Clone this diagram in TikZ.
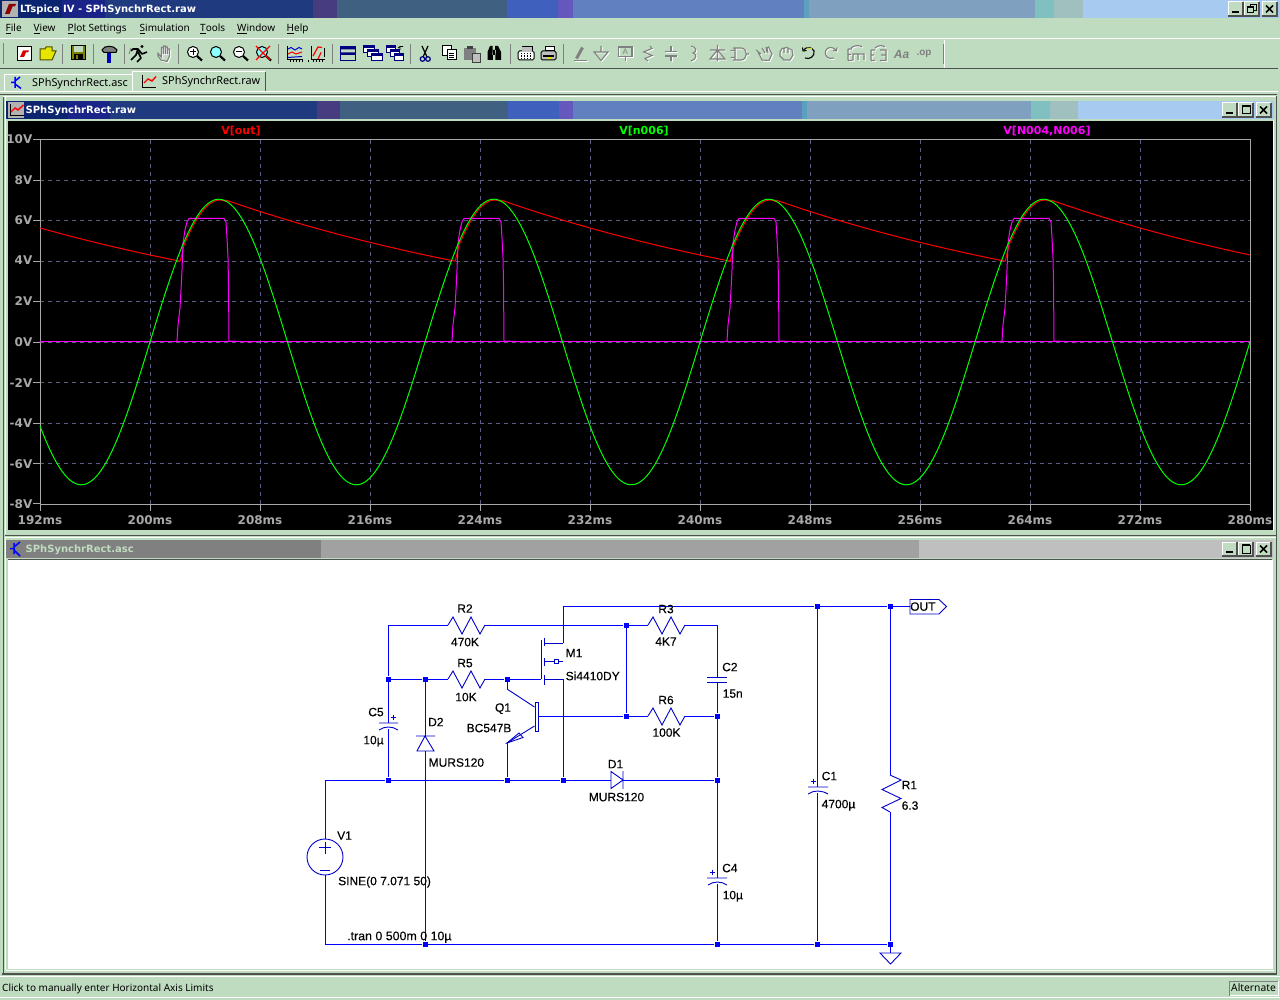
\documentclass[tikz,border=0pt]{standalone}
\usepackage{fontspec}
\setmainfont{Liberation Sans}
\newfontfamily\schf[FakeBold=0.25]{Liberation Sans}
\newfontfamily\dvf{DejaVu Sans}
\newfontfamily\uif{Noto Sans}
\definecolor{bgc}{HTML}{C0DCC0}
\definecolor{gridc}{HTML}{5C5C88}
\definecolor{axc}{HTML}{A8A8A8}
\definecolor{darkl}{HTML}{505050}
\definecolor{navy}{HTML}{000080}
\definecolor{wirec}{HTML}{0000FF}
\definecolor{symc}{HTML}{0000C8}
\definecolor{olive}{HTML}{808000}
\definecolor{magenta}{RGB}{255,0,255}
\definecolor{cyan}{RGB}{0,255,255}
\definecolor{yellow}{RGB}{255,255,0}
\definecolor{red}{RGB}{255,0,0}
\definecolor{green}{RGB}{0,255,0}
\tikzset{
 wire/.style={draw=wirec,line width=1pt},
 sym/.style={draw=symc,line width=.9pt},
 jdot/.style={rectangle,fill=wirec,inner sep=0pt,minimum size=5pt},
 schl/.style={font=\schf\fontsize{12}{14}\selectfont,text=black,inner sep=0pt,text height=8pt,text depth=2pt,yshift=-1.2pt},
 schw/.style={schl,anchor=west},
 menul/.style={font=\uif\fontsize{10}{12}\selectfont,text=black,inner sep=0pt,anchor=west,text height=8pt,text depth=2pt,yshift=-.8pt},
 tabl/.style={menul,font=\uif\fontsize{10.9}{12}\selectfont},
 titlel/.style={font=\dvf\bfseries\fontsize{10}{12}\selectfont,inner sep=0pt,anchor=west,text height=8pt,text depth=2pt,yshift=-.8pt},
 axl/.style={font=\dvf\bfseries\fontsize{12}{14}\selectfont,text=axc,inner sep=0pt,text height=8pt,text depth=2pt,yshift=-1pt},
 tracel/.style={font=\dvf\bfseries\fontsize{11}{14}\selectfont,inner sep=0pt,text height=8pt,text depth=2pt,yshift=-1pt},
 gridl/.style={draw=gridc,line width=1pt,dash pattern=on 4pt off 4pt},
 axis/.style={draw=axc,line width=1pt},
 redt/.style={draw=red,line width=1pt},
 grnt/.style={draw=green,line width=1pt},
 magt/.style={draw=magenta,line width=1pt,line join=round},
 tsep/.style={draw=gray,line width=1pt},
 ico/.style={draw=black,line width=1pt},
 dis/.style={draw=gray,line width=1.1pt},
 dissh/.style={draw=white,line width=1pt},
}
\newcommand{\resH}[2]{\draw[sym] (#1,#2) -- ++(5,-8) -- ++(9,17) -- ++(9,-17) -- ++(9,17) -- ++(5,-9);}
\newcommand{\emb}[1]{\path[dissh,shift={(1,1)}] #1; \path[dis] #1;}
\newcommand{\wbtn}[3]{%
 \fill[bgc] (#1,#2) rectangle ++(#3,14);
 \draw[white,line width=1pt] (#1,#2+14) -- (#1,#2) -- (#1+#3,#2);
 \draw[darkl,line width=1.2pt] (#1,#2+14) -- (#1+#3,#2+14) -- (#1+#3,#2);}
\newcommand{\wbtns}[3]{%
 \wbtn{#1}{#2}{15}\wbtn{#1+16}{#2}{15}\wbtn{#1+34}{#2}{15}
 \fill[black] (#1+4,#2+9) rectangle ++(7,2);
 \ifnum#3=0
 \draw[black,line width=1pt] (#1+20,#2+3) rectangle ++(8,8); \draw[black,line width=2pt] (#1+20,#2+3) -- ++(8,0);
 \else
 \draw[black,line width=1pt] (#1+22,#2+2.5) rectangle ++(6,6); \fill[bgc] (#1+19.5,#2+5) rectangle ++(6,6); \draw[black,line width=1pt] (#1+19.5,#2+5) rectangle ++(6,6); \draw[black,line width=1.5pt] (#1+19.5,#2+5) -- ++(6,0);
 \fi
 \draw[black,line width=1.6pt] (#1+38,#2+3.5) -- ++(7,7) (#1+45,#2+3.5) -- ++(-7,7);}
\newcommand{\zoomic}[2]{\fill[#2] (#1,52) circle (5.5); \draw[ico] (#1,52) circle (5.5); \draw[black,line width=2.2pt] (#1+4,56) -- (#1+9,60.5);}
\begin{document}
\begin{tikzpicture}[x=1pt,y=-1pt,line cap=butt]
\useasboundingbox (0,0) rectangle (1280,1000);
\fill[bgc] (0,0) rectangle (1280,1000);
% ---- main title bar
\foreach \a/\b/\c in {0/62/0A2470,62/105/1A2488,105/313/203A80,313/337/483C80,337/507/3F6080,507/558/3F60BC,558/573/6458BC,573/804/6080C0,804/809/5CA0C0,809/1035/80A0C0,1035/1054/80C0C0,1054/1083/A0C0C0,1083/1280/A6CAF0}{
 \definecolor{tmpc}{HTML}{\c}\fill[tmpc] (\a,0) rectangle (\b,18);}
\fill[gray!60] (2,1) rectangle (18,17);
\fill[red!55!black] (5,14) -- (9,4) -- (16,4) -- (15,6.5) -- (12.5,6.5) -- (9.5,14) -- cycle;
\node[titlel,text=white] (maintitle) at (20,9) {LTspice IV - SPhSynchrRect.raw};
\wbtns{1228}{2}{1}
% ---- menu
\node[menul] (mFile) at (5.5,28) {\underline{F}ile};
\node[menul] (mView) at (33.5,28) {\underline{V}iew};
\node[menul] (mPlot) at (67.5,28) {\underline{P}lot Settings};
\node[menul] (mSim) at (139.5,28) {\underline{S}imulation};
\node[menul] (mTools) at (200,28) {\underline{T}ools};
\node[menul] (mWin) at (237,28) {\underline{W}indow};
\node[menul] (mHelp) at (286.5,28) {\underline{H}elp};
\draw[white,line width=1pt] (0,38.5) -- (1280,38.5);
\draw[darkl,line width=1pt] (0,68.8) -- (1278,68.8);
\draw[white,line width=1pt] (0,91.3) -- (1278,91.3);
\draw[darkl,line width=1.2pt] (0,94.2) -- (1277,94.2);
\draw[gray,line width=1pt] (3.5,43) -- (3.5,64);
\foreach \s in {62,93,124,178,278,332,410,510,563,943}{\draw[tsep] (\s,44) -- (\s,64);}
\draw[white,line width=.6pt] (943.8,40) -- (943.8,68);
% new
\fill[white] (17.5,46.5) rectangle (31.5,60.5); \draw[ico] (17.5,46.5) rectangle (31.5,60.5);
\fill[red!85!black] (20,57) -- (23,50.5) -- (29,50.5) -- (28,52.5) -- (26,52.5) -- (24,57) -- cycle;
% open
\fill[yellow!80!olive] (40,60) -- (40,49) -- (45,49) -- (46,47) -- (52,47) -- (52,51) -- (56,51) -- (52,60) -- cycle;
\draw[olive!60!black,line width=1pt] (40,60) -- (40,49) -- (45,49) -- (46,47) -- (52,47) -- (52,51) -- (56,51) -- (52,60) -- cycle;
% save
\fill[olive] (71,46) rectangle (85.5,60); \draw[ico] (71,46) rectangle (85.5,60);
\fill[bgc] (74,46.5) rectangle (82.5,52); \fill[black] (74,54) rectangle (82.5,60);\fill[olive] (76,55.5) rectangle (78,59);
% hammer
\fill[blue!75!black] (106.5,52) rectangle (111,63);
\fill[gray] (102,49) .. controls (104,45) and (114,45) .. (117,49) -- (116,52) -- (102,52) -- cycle;
\draw[ico] (102,50) .. controls (104,45) and (114,45) .. (117,50) -- (116,52.5) -- (104,52.5) -- cycle;
% runner
\draw[black,line width=1.6pt,line join=round] (131,60) -- (136,55) -- (138,49) -- (142,54) -- (147,52) (138,52) -- (141,58) -- (137,62) (138,49) -- (133,49) -- (131,51);
\fill[black] (142,46.5) circle (1.6);
\draw[gray,line width=.8pt] (131,48) -- (129,54);
% hand
\emb{(158,56) -- (161,60) -- (167,61.5) -- (169.5,56) -- (169.5,49) -- (167.5,49) -- (167.5,54) -- (167.5,47) -- (165.5,47) -- (165.5,54) -- (165.5,46) -- (163.5,46) -- (163.5,54) -- (163.5,47.5) -- (161.5,47.5) -- (161.5,57) -- (158,53.5) -- cycle}
% zooms
\zoomic{193}{white}\draw[black,line width=1pt] (190,52) -- (196,52) (193,49) -- (193,55);
\zoomic{216}{cyan!45}
\zoomic{239}{white}\draw[black,line width=1pt] (236,52) -- (242,52);
\zoomic{262}{cyan!45}\draw[red,line width=1.4pt] (256,46) -- (270,60) (270,46) -- (256,60);
% plot icons
\draw[black,line width=1pt] (287,46) -- (287,60) -- (303,60); \foreach \q in {290,293,296,299,302}{\draw[black,line width=.8pt] (\q,60) -- (\q,62.5);}
\draw[blue!80!black,line width=1pt] (288,49) -- (291,47.5) -- (295,50) -- (299,47.5) -- (302,49);
\draw[red,line width=1pt] (288,54) -- (292,52) -- (296,54) -- (302,52);
\draw[blue!80!black,line width=1pt] (288,57.5) -- (302,56.5);
\draw[black,line width=1pt] (311,46) -- (311,60) -- (325,60); \foreach \q in {308.5,313,316,319,322}{\draw[black,line width=.8pt] (\q,60) -- (\q,62.5);}
\draw[red,line width=1.2pt] (313,56) -- (318,47) -- (322,47.5) (318,59) -- (321,52.5);
\draw[black,line width=1pt] (324,48) -- (324,57);
% window icons
\draw[navy,line width=1.2pt] (340.5,46.5) rectangle (355.5,60.5); \fill[navy] (340.5,46.5) rectangle (355.5,49.5) (340.5,52.5) rectangle (355.5,55);
\foreach \q/\r in {363/46,367/50,371/54}{\fill[white] (\q,\r) rectangle ++(11,7); \draw[navy,line width=1pt] (\q,\r) rectangle ++(11,7); \fill[navy] (\q,\r) rectangle ++(11,2.2);}
\foreach \q/\r in {386/46,390/50,394/54}{\fill[white] (\q,\r) rectangle ++(9,7); \draw[navy,line width=1pt] (\q,\r) rectangle ++(9,7); \fill[navy] (\q,\r) rectangle ++(9,2.2);}
\draw[black,line width=.8pt] (400,50) -- (400,46.5) -- (403,46.5) (400,46.5) -- (398,48);
% cut, copy, paste, find
\draw[black,line width=1.2pt] (422,46) -- (427,57) (428,46) -- (423,57);
\draw[navy,line width=1.2pt] (422.5,59) circle (2.3) (428,59) circle (2.3);
\fill[white] (442,46) rectangle (451,56); \draw[ico] (442,46) rectangle (451,56);
\fill[white] (447,50) rectangle (456,60); \draw[ico] (447,50) rectangle (456,60);
\draw[black,line width=.8pt] (449,53) -- (454,53) (449,55) -- (454,55) (449,57) -- (454,57);
\fill[gray] (464,48) rectangle (476,60); \fill[lightgray] (472,53) rectangle (480,62); \draw[darkgray,line width=.8pt] (472,53) rectangle (480,62); \fill[darkgray] (467,46) rectangle (473,49);
\fill[black] (487.5,52) -- (490,46) -- (492.5,46) -- (493,60) -- (487.5,60) -- cycle (495,46) -- (498,46) -- (501,52) -- (501,60) -- (495.5,60) -- cycle (492,50) rectangle (496,55);
% printers
\fill[white] (518,51) rectangle (534,60); \draw[ico,rounded corners=1.5pt] (518,51) rectangle (534,60);
\fill[gray!50] (522,47) rectangle (532,52); \draw[ico] (522,47) -- (532,47) -- (532,51);
\foreach \q in {521,524,527,530}{\draw[black,densely dotted,line width=.7pt] (\q,53) -- (\q,59);}
\fill[lightgray] (541,51) rectangle (556,60); \draw[ico,rounded corners=1.5pt] (541,51) rectangle (556,60);
\fill[white] (545,46.5) rectangle (554,51); \draw[ico] (545,46.5) rectangle (554,51);
\draw[black,line width=1.2pt] (543,56) -- (554,56); \fill[yellow!90!black] (547,57) rectangle (551,59);
% disabled tools
\draw[gray,line width=3pt] (576.5,58.5) -- (582.5,47.5);
\emb{(573.5,60.5) -- (587,60.5)}
\emb{(601,46) -- (601,52) (594,52) -- (608,52) -- (601,60.5) -- cycle}
\emb{(618.5,47) rectangle (632,56.5) (625.5,56.5) -- (625.5,61)}
\node[font=\fontsize{8}{8}\selectfont,text=gray,inner sep=0pt] (icoA) at (625.3,51.7) {A};
\emb{(650,46) -- (652,48.5) -- (643.5,52) -- (652,55.5) -- (645,58.5) -- (648,61)}
\emb{(671,46) -- (671,51.5) (665,51.5) -- (677,51.5) (665,56) -- (677,56) (671,56) -- (671,61)}
\emb{(691,46) .. controls (697,47) and (697,52) .. (693,53) .. controls (697,54) and (697,59) .. (691,61)}
\emb{(717.5,45) -- (717.5,61) (710,50) -- (725,50) (710,59) -- (725,59) -- (717.5,50) -- cycle}
\emb{(733,48) -- (741,48) .. controls (748,48) and (748,60) .. (741,60) -- (733,60) (735,48) -- (735,60) (730.5,50.5) -- (735,50.5) (730.5,57.5) -- (735,57.5) (746,54) -- (749,54)}
\emb{(758,52) -- (762,60) -- (769,60.5) -- (772,54) -- (768.5,47) -- (767,48) -- (768,53) (766,47) -- (767,52) (762,48) -- (765,53) (756,50) -- (761,54)}
\emb{(780,52) -- (780,56) -- (784,60) -- (790,60) -- (793,55) -- (792,50) -- (787,47.5) -- (782,48.5) -- cycle (784,48.5) -- (784,53) (788,48) -- (788,53)}
\draw[black,line width=1.1pt] (803.5,50) .. controls (807,46) and (812,47) .. (814,51) .. controls (815,56) and (810,60) .. (805,58);
\draw[black,line width=1pt] (802.5,47.5) -- (803,51) -- (806.5,50.5);
\draw[yellow!80!olive,line width=1pt] (807,48) -- (812,48.5);
\emb{(836,50) .. controls (832,46) and (827,47) .. (825.5,51) .. controls (824,56) and (829,60) .. (834,58) (837,47.5) -- (836.5,51) -- (833,50.5)}
\emb{(848,49) -- (848,60.5) (848,49) -- (852,49) (848,54.5) -- (851,54.5) (848,60.5) -- (852,60.5) (853,60.5) -- (853,54) -- (864,54) -- (864,60) (858,54) -- (858,60) (851,48) .. controls (854,45) and (860,45) .. (862,47)}
\emb{(871,50) -- (871,60.5) (871,50) -- (875,50) (871,55) -- (874,55) (871,60.5) -- (875,60.5) (880,50) -- (886,50) -- (886,60.5) -- (880,60.5) (881,55) -- (886,55) (875,48) .. controls (878,45) and (883,45) .. (885,47)}
\node[font=\itshape\bfseries\fontsize{12}{12}\selectfont,text=gray,inner sep=0pt] (icoAa) at (901.5,54.5) {Aa};
\node[font=\bfseries\fontsize{10}{10}\selectfont,text=gray,inner sep=0pt] (icoOp) at (924,53.5) {.op};
% ---- tabs
\draw[white,line width=1pt] (4.5,91) -- (4.5,74.5) -- (132,74.5);
\draw[white,line width=1pt] (132.5,91) -- (132.5,71.5) -- (265,71.5);
\draw[darkl,line width=1.2pt] (265.5,72) -- (265.5,91.5);
\draw[blue,line width=1.5pt] (15,77) -- (15,88) (15,82.5) -- (11,82.5) (15,81) -- (20,77) (15,84) -- (21,88.5);
\draw[black,line width=1pt] (142.5,75) -- (142.5,87.5) -- (156,87.5); \draw[red,line width=1.4pt] (144,83) -- (148,79) -- (152,81) -- (156,76.5);
\node[tabl] (tabA) at (32,83) {SPhSynchrRect.asc};
\node[tabl] (tabB) at (162,81) {SPhSynchrRect.raw};
% ---- plot window
\draw[darkl,line width=1pt] (3,96) -- (3,974);
\draw[white,line width=1pt] (5.5,96) -- (5.5,534) (5.5,537) -- (5.5,970);
\draw[darkl,line width=1pt] (1276.5,96) -- (1276.5,975);
\draw[white,line width=1pt] (3,96.5) -- (1276,96.5);
\foreach \a/\b/\c in {6/68/0A2470,68/110/1A2488,110/317/203A80,317/340/483C80,340/508/3F6080,508/559/3F60BC,559/573/6458BC,573/802/6080C0,802/807/5CA0C0,807/1031/80A0C0,1031/1050/80C0C0,1050/1078/A0C0C0,1078/1274/A6CAF0}{
 \definecolor{tmpc}{HTML}{\c}\fill[tmpc] (\a,101) rectangle (\b,119);}
\fill[gray!60] (8,102) rectangle (24,118);
\draw[black,line width=1pt] (10,104) -- (10,116) -- (24,116); \draw[red,line width=1.4pt] (11,112) -- (15,108) -- (18,110) -- (23.5,105);
\node[titlel,text=white] (rawtitle) at (25.5,110) {SPhSynchrRect.raw};
\wbtns{1222}{103}{0}
\fill[black] (8,121) rectangle (1272.5,530);
\draw[white,line width=1pt] (1273.5,120) -- (1273.5,531);
\foreach \k in {1,...,10}{\draw[gridl] ({40+110*\k},140) -- ++(0,364);}
\foreach \v in {1,...,8}{\draw[gridl] (40,{140+40.44*\v}) -- (1250,{140+40.44*\v});}
\draw[axis] (40,140) rectangle (1250,504);
\foreach \k in {0,...,11}{\draw[axis] ({40+110*\k},504) -- ++(0,7);}
\foreach \v in {0,...,9}{\draw[axis] (40,{140+40.44*\v}) -- (33,{140+40.44*\v});}
\foreach \lab/\yy in {10V/140,8V/180.5,6V/221,4V/261,2V/302,0V/342,-2V/383,-4V/423,-6V/464,-8V/504}{
 \node[axl,anchor=east] (yl\yy) at (32.5,\yy) {\lab};}
\foreach \lab/\xx in {192ms/40,200ms/150,208ms/260,216ms/370,224ms/480,232ms/590,240ms/700,248ms/810,256ms/920,264ms/1030,272ms/1140,280ms/1250}{
 \node[axl] (xl\xx) at (\xx,520.5) {\lab};}
\node[tracel,text=red] (tr1) at (241,130.5) {V[out]};
\node[tracel,text=green] (tr2) at (644,130.5) {V[n006]};
\node[tracel,text=magenta] (tr3) at (1047,130.5) {V[N004,N006]};
% traces
\draw[redt] plot[domain=192:202.2,samples=30] ({40+13.75*(\x-192)},{342-20.2*7.03*exp(-(\x-185.5)/29.6)});
\foreach \k in {0,1,2,3}{
 \pgfmathsetmacro\ss{202.2+20*\k}\pgfmathsetmacro\ee{205.5+20*\k}
 \pgfmathsetmacro\ff{min(222.2+20*\k,280)}
 \draw[redt] ({40+13.75*(\ss-192)},{342-20.2*4.0}) -- plot[domain=\ss+0.2:\ee,samples=12] ({40+13.75*(\x-192)+1},{342-20.2*(7.07*sin(18*\x)-0.04)});
 \draw[redt] plot[domain=\ee:\ff,samples=30] ({40+13.75*(\x-192)},{342-20.2*7.03*exp(-(\x-\ee)/29.6)});
}
\draw[magt] (40,342) -- (1250,342);
\foreach \k in {0,1,2,3}{
 \begin{scope}[xshift={275*\k*1pt}]
 \draw[magt] (173,342) -- (177,341) -- (178,325) -- (180,308) -- (181,290) -- (182,270) -- (183,243) -- (185,230) -- (187,222) -- (189,218.5) -- (224,218.5) -- (226,222) -- (227,238) -- (228,258) -- (228.5,283) -- (229,341) -- (253,342);
 \end{scope}}
\draw[grnt] plot[domain=192:280,samples=440] ({40+13.75*(\x-192)},{342-20.2*7.07*sin(18*\x)});
% ---- schematic window
\draw[darkl,line width=1.2pt] (5,535.3) -- (1276,535.3);
\draw[white,line width=1pt] (5,537.5) -- (1276,537.5);
\fill[gray] (6,540) rectangle (321,558);
\fill[black!37] (321,540) rectangle (919,558);
\fill[black!25] (919,540) rectangle (1273,558);
\draw[blue,line width=1.5pt] (14,543) -- (14,554) (14,548.5) -- (10,548.5) (14,547) -- (20,542) (14,550) -- (20,556);
\node[titlel,text=bgc] (asctitle) at (25.5,549) {SPhSynchrRect.asc};
\wbtns{1222}{542}{0}
\draw[darkl,line width=1pt] (8,559) -- (1272,559);
\fill[white] (8,560) rectangle (1272.5,968.5);
\draw[darkl,line width=2.4pt] (2,974) -- (1277,974);
\draw[white,line width=1pt] (6,970.3) -- (1274,970.3);
\draw[white,line width=1pt] (0,997.6) -- (1280,997.6);
\draw[white,line width=1pt] (0,976.2) -- (1280,976.2);
% status
\node[menul] (status) at (2,988) {Click to manually enter Horizontal Axis Limits};
\draw[gray,line width=1pt] (1278.5,981) -- (1229.5,981) -- (1229.5,995.5);
\draw[white,line width=1pt] (1229.5,995.5) -- (1278.5,995.5) -- (1278.5,981);
\node[menul,font=\uif\fontsize{10.3}{12}\selectfont] (alt) at (1231,988) {Alternate};
% junctions
\node[jdot] (jA) at (388,679) {};
\node[jdot] (jB) at (425,679) {};
\node[jdot] (jC) at (507,679) {};
\node[jdot] (jD) at (626,625) {};
\node[jdot] (jE) at (626,716) {};
\node[jdot] (jF) at (717,716) {};
\node[jdot] (jG) at (388,780) {};
\node[jdot] (jH) at (507,780) {};
\node[jdot] (jI) at (563,780) {};
\node[jdot] (jJ) at (717,780) {};
\node[jdot] (jK) at (817,606) {};
\node[jdot] (jL) at (890,606) {};
\node[jdot] (jM) at (425,944) {};
\node[jdot] (jN) at (717,944) {};
\node[jdot] (jO) at (817,944) {};
\node[jdot] (jP) at (890,944) {};
\coordinate (tl) at (388,625);
\coordinate (r2a) at (448,625);
\coordinate (r2b) at (485,625);
\coordinate (r3a) at (648,625);
\coordinate (r3b) at (685,625);
\coordinate (tr) at (717,625);
\coordinate (c2t) at (717,677);
\coordinate (c2b) at (717,682);
\coordinate (r5a) at (448,679);
\coordinate (r5b) at (485,679);
\coordinate (gate) at (541,679);
\coordinate (r6a) at (648,716);
\coordinate (r6b) at (685,716);
\coordinate (c5t) at (388,723);
\coordinate (c5b) at (388,729);
\coordinate (vin) at (325,780);
\coordinate (bl) at (325,944);
\coordinate (d1a) at (611,780);
\coordinate (d1k) at (623,780);
\coordinate (d2k) at (425,736);
\coordinate (d2a) at (425,751);
\coordinate (c4t) at (717,878);
\coordinate (c4b) at (717,884);
\coordinate (c1t) at (817,787);
\coordinate (c1b) at (817,793);
\coordinate (r1a) at (890,775);
\coordinate (r1b) at (890,812);
\coordinate (gnd) at (890,953);
\coordinate (outp) at (910,606);
\coordinate (mtop) at (563,606);
\coordinate (mdr) at (563,643);
\coordinate (msr) at (563,679);
\coordinate (qcol) at (507,689);
\coordinate (qem) at (507,743);
\coordinate (qb) at (538,716);
\node[circle,draw=symc,line width=.9pt,minimum size=36pt,inner sep=0pt] (V1) at (325,857) {};
% wires
\draw[wire] (tl) -- (r2a) (r2b) -- (jD) -- (r3a) (r3b) -- (tr) -- (c2t);
\draw[wire] (tl) -- (jA) -- (c5t) (c5b) -- (jG);
\draw[wire] (jA) -- (jB) -- (r5a) (r5b) -- (jC) -- (gate);
\draw[wire] (jD) -- (jE) -- (r6a) (r6b) -- (jF);
\draw[wire] (c2b) -- (jF) -- (jJ) -- (c4t) (c4b) -- (jN);
\draw[wire] (vin) -- (jG) -- (jH) -- (jI) -- (d1a) (d1k) -- (jJ);
\draw[wire] (vin) -- (V1.north) (V1.south) -- (bl) -- (jM) -- (jN) -- (jO) -- (jP);
\draw[wire] (jB) -- (d2k) (d2a) -- (jM);
\draw[wire] (mdr) -- (mtop) -- (jK) -- (jL) -- (outp);
\draw[wire] (msr) -- (jI);
\draw[wire] (jK) -- (c1t) (c1b) -- (jO);
\draw[wire] (jL) -- (r1a) (r1b) -- (jP) -- (gnd);
\draw[wire] (jC) -- (qcol) (qem) -- (jH) (qb) -- (jE);
% resistors
\resH{448}{625}\resH{648}{625}\resH{448}{679}\resH{648}{716}
\draw[sym] (r1a) -- (901,780) -- (882,789.5) -- (901,798.5) -- (882,807.5) -- (r1b);
% caps
\draw[sym] (707,677) -- (727,677) (707,682) -- (727,682);
\draw[sym] (707,878) -- (727,878) (708,885) .. controls (714,881) and (721,881) .. (727,885);
\draw[sym] (808,787) -- (828,787) (808,794) .. controls (814,790) and (821,790) .. (828,794);
\draw[sym] (379,723) -- (398,723) (379,730) .. controls (385,726) and (392,726) .. (398,730);
\draw[sym,line width=.9pt] (393,714.5) -- (393,719.5) (390.5,717) -- (395.5,717);
\draw[sym,line width=.9pt] (712,869.5) -- (712,874.5) (709.5,872) -- (714.5,872);
\draw[sym,line width=.9pt] (813.5,778.5) -- (813.5,783.5) (811,781) -- (816,781);
% diodes
\draw[sym] (416,736) -- (435,736) (425,736) -- (417,751) -- (434,751) -- cycle;
\draw[sym] (623,771) -- (623,789) (611,771.5) -- (611,788.5) -- (623,780) -- cycle;
% V1
\draw[sym] (319,847.5) -- (331,847.5) (325,841.5) -- (325,853.5) (320,870) -- (330,870);
% MOSFET
\draw[sym] (541,640) -- (541,679);
\draw[sym] (544,638) -- (544,646) (544,658) -- (544,666) (544,675) -- (544,685);
\draw[sym] (544,643) -- (mdr) (544,679) -- (msr) (544,661) -- (554,661) (558,661) -- (563,661);
\draw[sym,line width=.8pt] (554,659) rectangle (558,663);
% BJT
\draw[sym] (535,702) rectangle (538,731);
\draw[sym] (qcol) -- (534.5,707) (534.5,726) -- (qem);
\draw[sym] (qem) -- (519,733) -- (523,737.5) -- cycle;
% ground and out flag
\draw[sym] (880,953) -- (901,953) -- (890.5,964) -- cycle;
\draw[sym] (910,599.5) -- (939,599.5) -- (946.5,606.5) -- (939,614) -- (910,614) -- cycle;
% labels
\node[schl] (lR2) at (465,608.5) {R2};
\node[schl] (vR2) at (465,642) {470K};
\node[schl] (lR3) at (666,609) {R3};
\node[schl] (vR3) at (666,641.5) {4K7};
\node[schl] (lR5) at (465,663) {R5};
\node[schl] (vR5) at (466,697) {10K};
\node[schl] (lR6) at (666,700) {R6};
\node[schl] (vR6) at (666.5,732.5) {100K};
\node[schw] (lM1) at (565.5,653) {M1};
\node[schw] (vM1) at (565.5,676) {Si4410DY};
\node[schl] (lQ1) at (503,707.5) {Q1};
\node[schl] (vQ1) at (489,728) {BC547B};
\node[schl] (lC5) at (376,712) {C5};
\node[schl] (vC5) at (373.5,740) {10µ};
\node[schw] (lD2) at (428,722) {D2};
\node[schw] (vD2) at (428.5,762.5) {MURS120};
\node[schl] (lD1) at (615.5,764) {D1};
\node[schl] (vD1) at (616.5,797) {MURS120};
\node[schw] (lC2) at (722,667) {C2};
\node[schw] (vC2) at (722.5,693.5) {15n};
\node[schw] (lC1) at (821.5,776) {C1};
\node[schw] (vC1) at (821.5,804) {4700µ};
\node[schw] (lC4) at (722,868) {C4};
\node[schw] (vC4) at (722.5,895) {10µ};
\node[schw] (lR1) at (901.5,785) {R1};
\node[schw] (vR1) at (901.5,805.5) {6.3};
\node[schw] (lV1) at (337,835.5) {V1};
\node[schw] (vV1) at (338,881) {SINE(0 7.071 50)};
\node[schw,font=\schf\fontsize{12.4}{14}\selectfont] (tran) at (347,936) {.tran 0 500m 0 10µ};
\node[schw] (lOut) at (910,606.5) {OUT};
\end{tikzpicture}
\end{document}
